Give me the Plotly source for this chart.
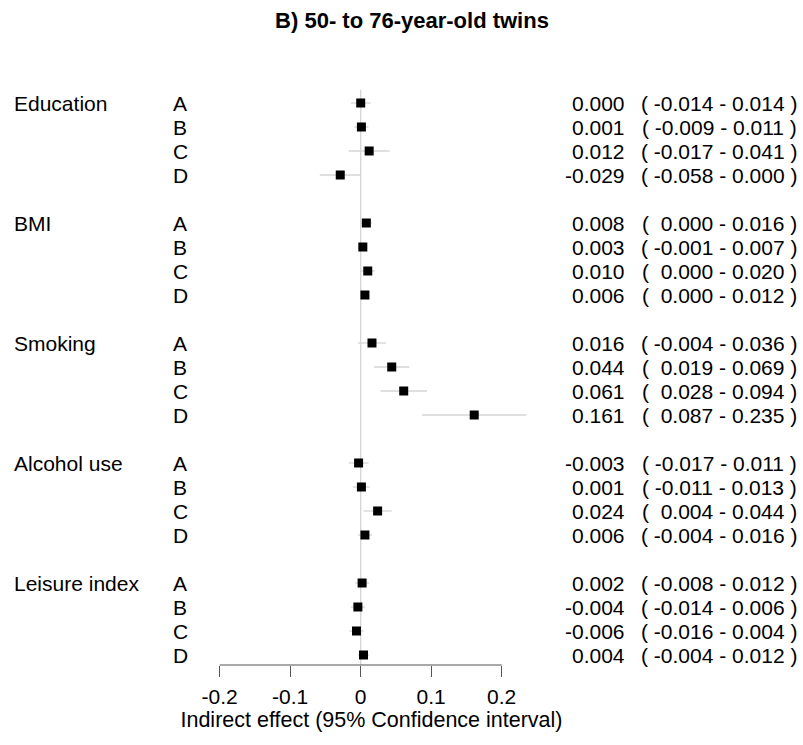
import plotly.graph_objects as go

# Forest plot: indirect effects with 95% confidence intervals
groups = ["Education", "BMI", "Smoking", "Alcohol use", "Leisure index"]
models = ["A", "B", "C", "D"]

est = [
    [0.000, 0.001, 0.012, -0.029],
    [0.008, 0.003, 0.010, 0.006],
    [0.016, 0.044, 0.061, 0.161],
    [-0.003, 0.001, 0.024, 0.006],
    [0.002, -0.004, -0.006, 0.004],
]
lower = [
    [-0.014, -0.009, -0.017, -0.058],
    [0.000, -0.001, 0.000, 0.000],
    [-0.004, 0.019, 0.028, 0.087],
    [-0.017, -0.011, 0.004, -0.004],
    [-0.008, -0.014, -0.016, -0.004],
]
upper = [
    [0.014, 0.011, 0.041, 0.000],
    [0.016, 0.007, 0.020, 0.012],
    [0.036, 0.069, 0.094, 0.235],
    [0.011, 0.013, 0.044, 0.016],
    [0.012, 0.006, 0.004, 0.012],
]
tick_vals = [-0.2, -0.1, 0.0, 0.1, 0.2]
tick_text = ["-0.2", "-0.1", "0", "0.1", "0.2"]

W, H = 803, 745
FONT = "Liberation Sans, Arial, sans-serif"
FS = 21
NB = "\u00a0"

# row positions: 4 rows per group with a blank row between groups
rows, xs, lo_err, hi_err = [], [], [], []
for g in range(len(groups)):
    for m in range(len(models)):
        r = g * 5 + m
        rows.append(r)
        xs.append(est[g][m])
        lo_err.append(est[g][m] - lower[g][m])
        hi_err.append(upper[g][m] - est[g][m])

fig = go.Figure()
fig.add_trace(go.Scatter(
    x=xs, y=rows, mode="markers",
    marker=dict(symbol="square", size=9, color="black"),
    error_x=dict(type="data", symmetric=False, array=hi_err, arrayminus=lo_err,
                 width=0, thickness=1.3, color="#d4d4d4"),
    hoverinfo="skip", showlegend=False,
))

def px(x):
    return x / W

def num(v):
    # fixed-width number: a blank stands in for the sign of non-negative values
    s = f"{v:.3f}"
    return s if s.startswith("-") else NB + s

ann = []
for g, name in enumerate(groups):
    ann.append(dict(x=px(12), y=g * 5, xref="paper", yref="y", text=name,
                    xanchor="left", yanchor="middle", showarrow=False))
    for m, lab in enumerate(models):
        r = g * 5 + m
        ann.append(dict(x=px(171), y=r, xref="paper", yref="y", text=lab,
                        xanchor="left", yanchor="middle", showarrow=False))
        ann.append(dict(x=px(627), y=r, xref="paper", yref="y", text=f"{est[g][m]:.3f}",
                        xanchor="right", yanchor="middle", showarrow=False))
        ci = "(" + NB + num(lower[g][m]) + NB + "-" + NB + f"{upper[g][m]:.3f}" + NB + ")"
        ann.append(dict(x=px(799), y=r, xref="paper", yref="y", text=ci,
                        xanchor="right", yanchor="middle", showarrow=False))

# plot area geometry
zero_px = 360.7
unit_px = 705.0
axis_y = 665
top_px = 60
row0_px = 103
row_px = 24.0
dom_right = 2 * 371.5
x_rng = [-zero_px / unit_px, (dom_right - zero_px) / unit_px]
y_bottom = (axis_y - row0_px) / row_px
y_top = (top_px - row0_px) / row_px

shapes = [
    dict(type="line", xref="x", yref="y", x0=0, x1=0, y0=-0.55, y1=y_bottom,
         line=dict(color="#d4d4d4", width=1.3), layer="below"),
    dict(type="line", xref="x", yref="paper", x0=-0.2, x1=0.2, y0=0, y1=0,
         line=dict(color="#555555", width=1.2)),
]

fig.update_layout(
    width=W, height=H,
    margin=dict(l=0, r=0, t=top_px, b=H - axis_y),
    paper_bgcolor="white", plot_bgcolor="white",
    font=dict(family=FONT, size=FS, color="black"),
    title=dict(text="<b>B) 50- to 76-year-old twins</b>", x=412 / W, xref="container",
               y=1 - 20 / H, yref="container", xanchor="center", yanchor="middle",
               font=dict(family=FONT, size=22, color="black")),
    xaxis=dict(domain=[0, dom_right / W], range=x_rng, tickvals=tick_vals, ticktext=tick_text,
               ticks="outside", ticklen=11, tickwidth=1.2, tickcolor="#555555",
               ticklabelstandoff=2,
               showgrid=False, zeroline=False, showline=False,
               tickfont=dict(size=FS, color="black"),
               title=dict(text="Indirect effect (95% Confidence interval)", standoff=2,
                          font=dict(size=21.5, color="black"))),
    yaxis=dict(range=[y_bottom, y_top], visible=False, showgrid=False, zeroline=False),
    annotations=ann, shapes=shapes,
)

fig.write_html("out.html")
